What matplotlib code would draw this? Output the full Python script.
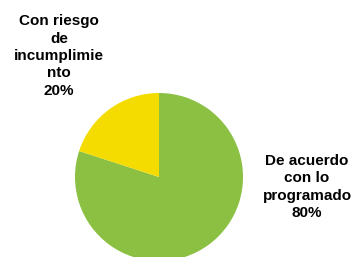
import matplotlib
matplotlib.use("Agg")
import matplotlib.pyplot as plt

labels = ["De acuerdo\ncon lo\nprogramado", "Con riesgo\nde\nincumplimie\nnto"]
values = [80, 20]
colors = ["#8BC043", "#F5DC00"]

W, H = 356, 257
fig = plt.figure(figsize=(W/100, H/100), dpi=100)
cx, cy, r = 159, 177, 84
ax = fig.add_axes([(cx - r)/W, (H - cy - r)/H, 2*r/W, 2*r/H])
ax.pie(values, colors=colors, startangle=90, counterclock=False,
       wedgeprops=dict(linewidth=0))
ax.set_xlim(-1, 1); ax.set_ylim(-1, 1)
ax.set_aspect('auto')
ax.axis('off')

pos = [(307, 187), (59, 56)]
for lab, v, (x, y) in zip(labels, values, pos):
    fig.text(x/W, 1 - y/H, f"{lab}\n{v}%", ha='center', va='center',
             fontsize=11, fontweight='bold', family=['Liberation Sans', 'DejaVu Sans'],
             linespacing=1.3)
fig.savefig("out.png", dpi=100)
